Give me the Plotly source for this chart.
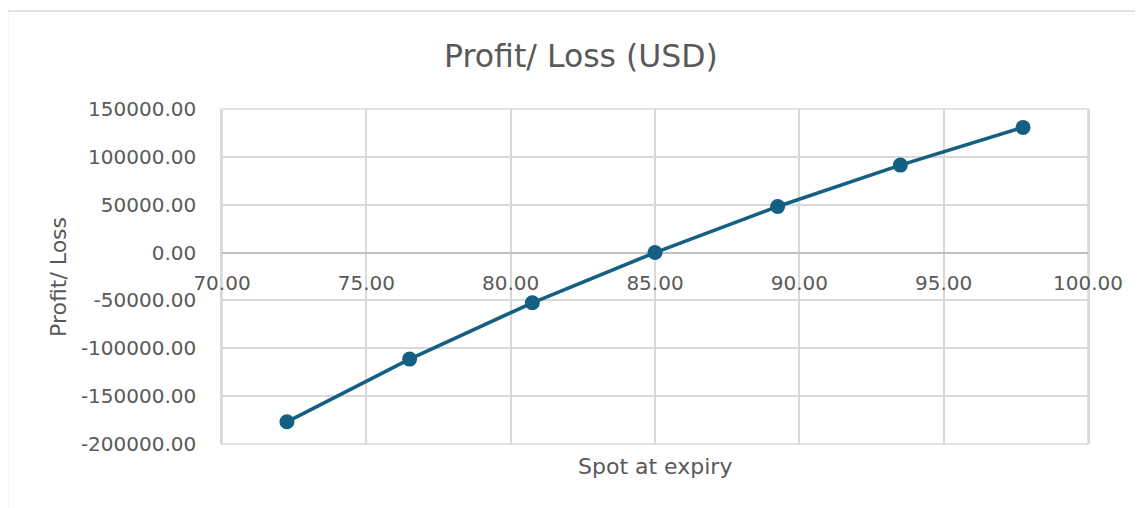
import plotly.graph_objects as go

spot = [72.25, 76.50, 80.75, 85.00, 89.25, 93.50, 97.75]
pnl = [-176800, -111300, -52500, 0, 48100, 91400, 130800]

x_ticks = [70, 75, 80, 85, 90, 95, 100]
y_ticks = [-200000, -150000, -100000, -50000, 0, 50000, 100000, 150000]

LINE = "#156082"
TXT = "#595959"
GRID = "#d9d9d9"
FONT = "DejaVu Sans"

OFF = 8  # page body margin
W, H = 1143 - OFF, 508 - OFF
L, R, T, B = 222 - OFF, 55, 109 - OFF, 64
pw, ph = W - L - R, H - T - B

fig = go.Figure()
fig.add_trace(go.Scatter(
    x=spot, y=pnl, mode="lines+markers",
    line=dict(color=LINE, width=3.6),
    marker=dict(color=LINE, size=15),
    showlegend=False, hoverinfo="x+y",
))

def px_x(px):
    return (px - OFF - L) / pw

def px_y(py):
    return (H - B - (py - OFF)) / ph

fig.update_layout(
    width=W, height=H,
    margin=dict(l=L, r=R, t=T, b=B, autoexpand=False),
    paper_bgcolor="white", plot_bgcolor="white",
    font=dict(family=FONT, color=TXT, size=20),
    title=dict(text="Profit/ Loss (USD)", x=(581 - OFF) / W, xref="container", xanchor="center",
               y=1 - (56 - OFF) / H, yref="container", yanchor="middle",
               font=dict(size=31.5, color=TXT, family=FONT)),
    xaxis=dict(range=[70, 100], tickvals=x_ticks,
               ticktext=[f"{v:.2f}" for v in x_ticks],
               showgrid=True, gridcolor=GRID, gridwidth=1.5,
               zeroline=False, showline=False,
               anchor="free", position=200000 / 350000,
               ticks="", ticklabelstandoff=16,
               tickfont=dict(size=20, color=TXT, family=FONT)),
    yaxis=dict(range=[-200000, 150000], tickvals=y_ticks,
               ticktext=[f"{v:.2f}" for v in y_ticks],
               showgrid=True, gridcolor=GRID, gridwidth=1.5,
               zeroline=True, zerolinecolor="#bfbfbf", zerolinewidth=1.5,
               showline=True, mirror=True, linecolor=GRID, linewidth=1.5,
               ticks="", ticklabelstandoff=20,
               tickfont=dict(size=20, color=TXT, family=FONT)),
    annotations=[
        dict(text="Spot at expiry", xref="paper", yref="paper",
             x=px_x(655), y=px_y(466), xanchor="center", yanchor="middle",
             showarrow=False, font=dict(size=22, color=TXT, family=FONT)),
        dict(text="Profit/ Loss", xref="paper", yref="paper",
             x=px_x(58), y=px_y(277), xanchor="center", yanchor="middle",
             textangle=-90, showarrow=False,
             font=dict(size=22, color=TXT, family=FONT)),
    ],
    shapes=[
        dict(type="rect", xref="paper", yref="paper", x0=0, x1=1, y0=0, y1=1,
             line=dict(color=GRID, width=1.5), layer="below"),
        dict(type="line", xref="paper", yref="paper",
             x0=px_x(7.5), x1=px_x(7.5), y0=px_y(520), y1=px_y(11),
             line=dict(color=GRID, width=1.5)),
        dict(type="line", xref="paper", yref="paper",
             x0=px_x(7.5), x1=px_x(1150), y0=px_y(11), y1=px_y(11),
             line=dict(color=GRID, width=1.5)),
    ],
)

fig.write_html("out.html")
